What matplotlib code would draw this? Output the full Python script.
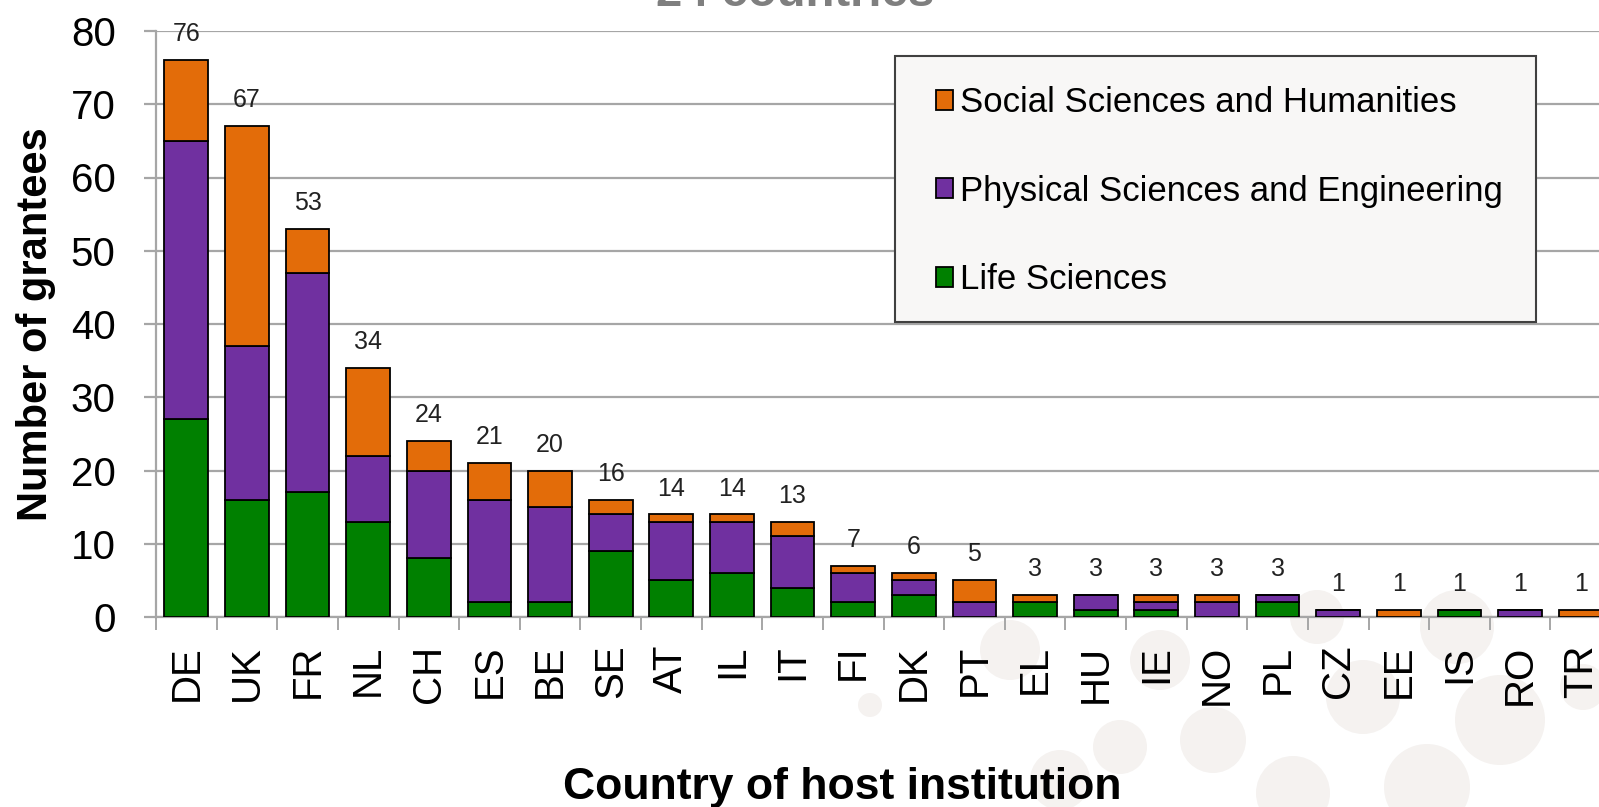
import numpy as np
import matplotlib
matplotlib.use('Agg')
import matplotlib.pyplot as plt
from matplotlib.patches import Ellipse, Rectangle

# Data
countries = ['DE', 'UK', 'FR', 'NL', 'CH', 'ES', 'BE', 'SE', 'AT', 'IL', 'IT', 'FI',
             'DK', 'PT', 'EL', 'HU', 'IE', 'NO', 'PL', 'CZ', 'EE', 'IS', 'RO', 'TR']
life_sciences = [27, 16, 17, 13, 8, 2, 2, 9, 5, 6, 4, 2, 3, 0, 2, 1, 1, 0, 2, 0, 0, 1, 0, 0]
physical_eng = [38, 21, 30, 9, 12, 14, 13, 5, 8, 7, 7, 4, 2, 2, 0, 2, 1, 2, 1, 1, 0, 0, 1, 0]
social_hum = [11, 30, 6, 12, 4, 5, 5, 2, 1, 1, 2, 1, 1, 3, 1, 0, 1, 1, 0, 0, 1, 0, 0, 1]

C_LS = '#008000'
C_PE = '#7030a0'
C_SH = '#e36c09'
GRID = '#a6a6a6'

plt.rcParams['font.family'] = ['Liberation Sans', 'DejaVu Sans']

W, H = 1599, 807
fig = plt.figure(figsize=(W / 100, H / 100), dpi=100)

# faint decorative circles of the slide background
circles = [(870, 705, 12), (1010, 650, 30), (1120, 747, 27), (1160, 660, 30),
           (1213, 740, 33), (1293, 793, 37), (1317, 617, 27), (1363, 697, 37),
           (1427, 787, 43), (1457, 627, 37), (1500, 720, 45), (1583, 687, 23),
           (1060, 780, 30)]
for cx, cy, r in circles:
    fig.patches.append(Ellipse((cx / W, 1 - cy / H), 2 * r / W, 2 * r / H,
                               transform=fig.transFigure, facecolor='#f5f2f0',
                               edgecolor='none', zorder=-5))

ax = fig.add_axes([156 / W, 190 / H, 1455 / W, 586 / H])
ax.set_facecolor('none')

x = np.arange(len(countries))
ls = np.array(life_sciences)
pe = np.array(physical_eng)
sh = np.array(social_hum)
totals = ls + pe + sh

bw = 0.72
ax.bar(x, ls, bw, color=C_LS, edgecolor='black', linewidth=1.3, label='Life Sciences', zorder=3)
ax.bar(x, pe, bw, bottom=ls, color=C_PE, edgecolor='black', linewidth=1.3,
       label='Physical Sciences and Engineering', zorder=3)
ax.bar(x, sh, bw, bottom=ls + pe, color=C_SH, edgecolor='black', linewidth=1.3,
       label='Social Sciences and Humanities', zorder=3)

for xi, t in zip(x, totals):
    ax.annotate(str(t), (xi, t), xytext=(0, 10), textcoords='offset points',
                ha='center', va='bottom', fontsize=18, color='#222222')

ax.set_xlim(-0.5, len(countries) - 0.5)
ax.set_ylim(0, 80)
ax.set_yticks(range(0, 81, 10))
ax.yaxis.grid(True, color=GRID, linewidth=1.6, zorder=0)
ax.tick_params(axis='y', labelsize=29, length=9, width=1.6, color=GRID, pad=20)

ax.set_xticks(x)
ax.set_xticklabels(countries, rotation=90, fontsize=29)
ax.tick_params(axis='x', length=0, pad=20)
ax.set_xticks(np.arange(-0.5, len(countries), 1), minor=True)
ax.tick_params(axis='x', which='minor', length=9, width=1.4, color=GRID)

for s in ['top', 'right']:
    ax.spines[s].set_visible(False)
for s in ['left', 'bottom']:
    ax.spines[s].set_color(GRID)
    ax.spines[s].set_linewidth(1.6)

fig.text(36 / W, 1 - 324 / H, 'Number of grantees', rotation=90, ha='center', va='center',
         fontsize=30, fontweight='bold')
fig.text(842 / W, 1 - 787 / H, 'Country of host institution', ha='center', va='center',
         fontsize=32, fontweight='bold')

# slide title, cut off at the top edge
fig.text(795 / W, 1 - 6 / H, '24 countries', ha='center', va='baseline',
         fontsize=34, fontweight='bold', color='#7f7f7f')

# legend box drawn by hand so the padding matches the slide
fig.patches.append(Rectangle((895 / W, 1 - 322 / H), 641 / W, 266 / H,
                             transform=fig.transFigure, facecolor='#f8f7f6',
                             edgecolor='#404040', linewidth=1.5, zorder=4))
handles, labels = ax.get_legend_handles_labels()
leg = fig.legend(handles[::-1], labels[::-1], loc='upper left',
                 bbox_to_anchor=(936 / W, 1 - 86 / H), frameon=False,
                 prop={'size': 25},
                 handlelength=0.5, handleheight=0.5, handletextpad=0.2,
                 labelspacing=1.6, borderpad=0, borderaxespad=0)
leg.set_zorder(5)

fig.savefig('out.png', dpi=100)
